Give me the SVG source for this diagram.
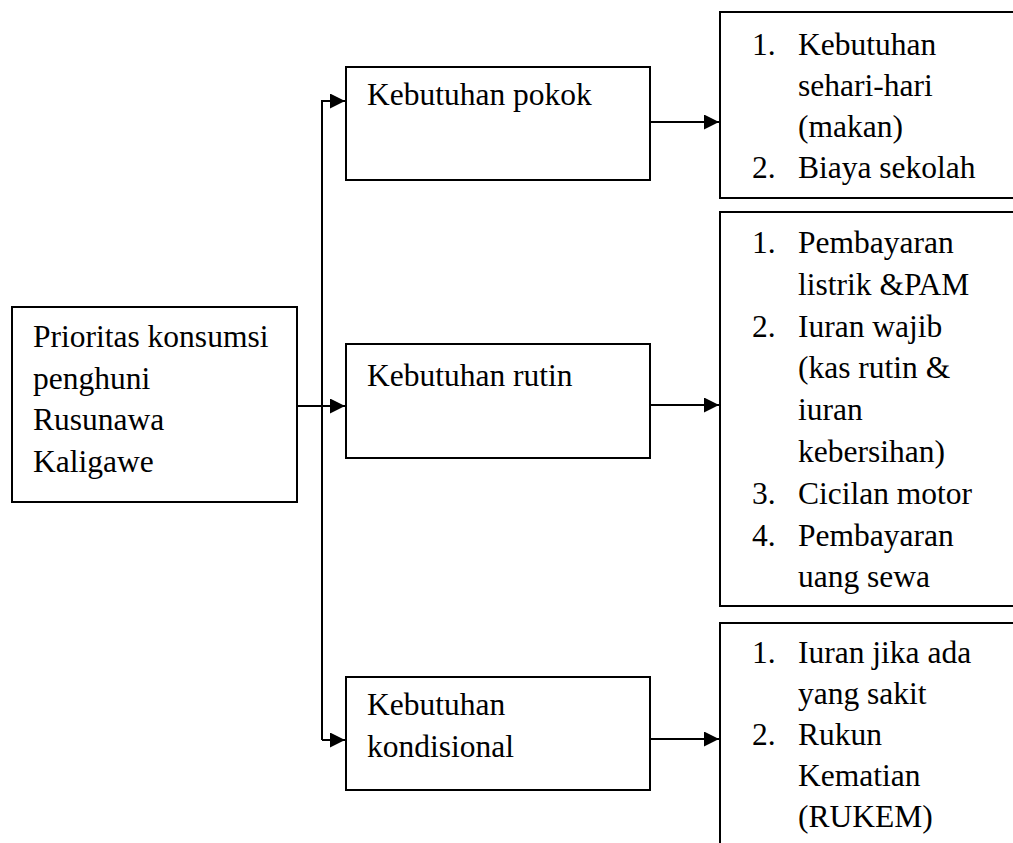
<svg xmlns="http://www.w3.org/2000/svg" width="1013" height="843" viewBox="0 0 1013 843">
<style>
.box{fill:#fff;stroke:#000;stroke-width:2}
.t{font-family:"Liberation Serif","Times New Roman",serif;font-size:31.5px;fill:#000}
.c{fill:none;stroke:#000;stroke-width:2}
</style>
<defs>
<marker id="ah" markerUnits="userSpaceOnUse" markerWidth="16" markerHeight="16" refX="15" refY="7.5" orient="auto">
<path d="M0,0 L15,7.5 L0,15 Z" fill="#000"/>
</marker>
</defs>
<rect width="1013" height="843" fill="#fff"/>
<g id="connectors">
<path class="c" d="M297,406 H345" marker-end="url(#ah)"/>
<path class="c" d="M322,740 V101 H345" marker-end="url(#ah)"/>
<path class="c" d="M322,740 H345" marker-end="url(#ah)"/>
<path class="c" d="M650,122 H719" marker-end="url(#ah)"/>
<path class="c" d="M650,405 H719" marker-end="url(#ah)"/>
<path class="c" d="M650,739 H719" marker-end="url(#ah)"/>
</g>
<g id="root">
<rect class="box" x="12" y="307" width="285" height="195"/>
<text class="t" x="33" y="347">Prioritas konsumsi</text>
<text class="t" x="33" y="389">penghuni</text>
<text class="t" x="33" y="430">Rusunawa</text>
<text class="t" x="33" y="472">Kaligawe</text>
</g>
<g id="pokok">
<rect class="box" x="346" y="67" width="304" height="113"/>
<text class="t" x="367" y="105">Kebutuhan pokok</text>
</g>
<g id="rutin">
<rect class="box" x="346" y="344" width="304" height="114"/>
<text class="t" x="367" y="386">Kebutuhan rutin</text>
</g>
<g id="kondisional">
<rect class="box" x="346" y="677" width="304" height="113"/>
<text class="t" x="367" y="715">Kebutuhan</text>
<text class="t" x="367" y="757">kondisional</text>
</g>
<g id="list-pokok">
<rect class="box" x="720" y="12" width="310" height="186"/>
<text class="t" x="752" y="55">1.</text>
<text class="t" x="798" y="55">Kebutuhan</text>
<text class="t" x="798" y="96">sehari-hari</text>
<text class="t" x="798" y="137">(makan)</text>
<text class="t" x="752" y="178">2.</text>
<text class="t" x="798" y="178">Biaya sekolah</text>
</g>
<g id="list-rutin">
<rect class="box" x="720" y="212" width="310" height="394"/>
<text class="t" x="752" y="253">1.</text>
<text class="t" x="798" y="253">Pembayaran</text>
<text class="t" x="798" y="295">listrik &amp;PAM</text>
<text class="t" x="752" y="337">2.</text>
<text class="t" x="798" y="337">Iuran wajib</text>
<text class="t" x="798" y="378">(kas rutin &amp;</text>
<text class="t" x="798" y="420">iuran</text>
<text class="t" x="798" y="462">kebersihan)</text>
<text class="t" x="752" y="504">3.</text>
<text class="t" x="798" y="504">Cicilan motor</text>
<text class="t" x="752" y="546">4.</text>
<text class="t" x="798" y="546">Pembayaran</text>
<text class="t" x="798" y="587">uang sewa</text>
</g>
<g id="list-kondisional">
<rect class="box" x="720" y="623" width="310" height="240"/>
<text class="t" x="752" y="663">1.</text>
<text class="t" x="798" y="663">Iuran jika ada</text>
<text class="t" x="798" y="704">yang sakit</text>
<text class="t" x="752" y="745">2.</text>
<text class="t" x="798" y="745">Rukun</text>
<text class="t" x="798" y="786">Kematian</text>
<text class="t" x="798" y="827">(RUKEM)</text>
</g>
</svg>
